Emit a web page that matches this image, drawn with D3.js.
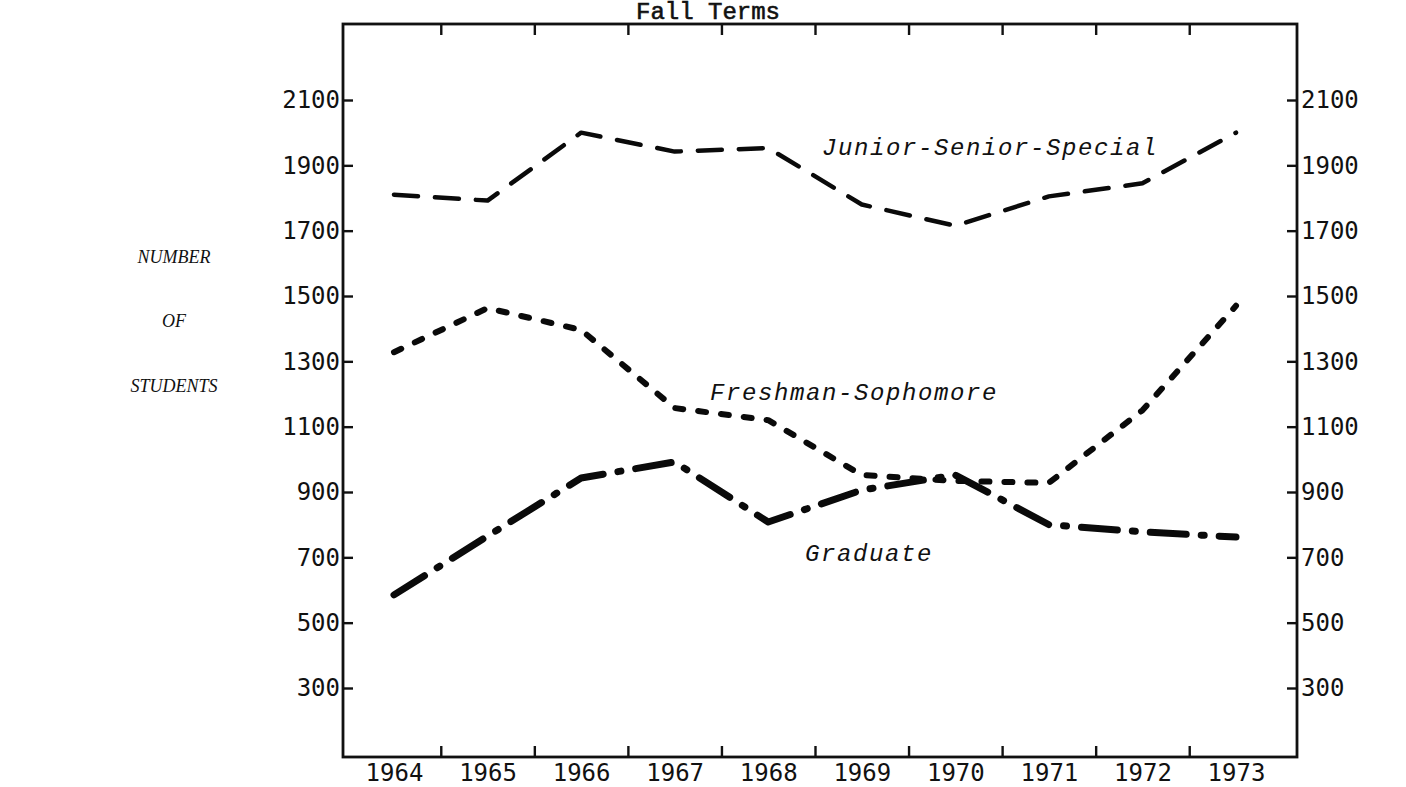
<!DOCTYPE html>
<html>
<head>
<meta charset="utf-8">
<script src="https://cdn.jsdelivr.net/npm/d3@7"></script>
<style>
  body { margin: 0; background: #fff; }
  svg { display: block; }
  .tick text { font-family: "DejaVu Sans Mono", monospace; font-size: 24px; fill: #111; }
  .series-label { font-family: "Liberation Mono", monospace; font-style: italic; font-size: 24px; letter-spacing: 1.6px; fill: #111; }
  .axis-label { font-family: "Liberation Serif", serif; font-style: italic; font-size: 18px; fill: #111; }
</style>
</head>
<body>
<svg id="chart" width="1406" height="787"></svg>
<script>
// enrollment, fall terms
var years = [1964, 1965, 1966, 1967, 1968, 1969, 1970, 1971, 1972, 1973];
var juniorSenior = [1810, 1792, 2000, 1942, 1953, 1780, 1715, 1805, 1845, 2000];
var freshSoph = [1328, 1463, 1396, 1157, 1120, 952, 934, 928, 1150, 1470];
var graduate = [585, 765, 943, 992, 808, 906, 952, 800, 778, 762];
var yTicks = [300, 500, 700, 900, 1100, 1300, 1500, 1700, 1900, 2100];
var tickYears = [1964.5, 1965.5, 1966.5, 1967.5, 1968.5, 1969.5, 1970.5, 1971.5, 1972.5];

var frame = { left: 343, right: 1297, top: 24, bottom: 757 };

var svg = d3.select('#chart');

var x = d3.scaleLinear().domain([1964, 1973]).range([394, 1236]);
var y = d3.scaleLinear().domain([300, 2100]).range([688, 100]);

// frame
svg.append('rect')
  .attr('x', frame.left).attr('y', frame.top)
  .attr('width', frame.right - frame.left).attr('height', frame.bottom - frame.top)
  .attr('fill', 'none').attr('stroke', '#111').attr('stroke-width', 2.8);

// bottom axis: ticks between years, labels under each year
var bottomAxis = svg.append('g').attr('transform', 'translate(0,' + frame.bottom + ')')
  .call(d3.axisBottom(x).tickValues(tickYears).tickSize(-11).tickFormat(''));
bottomAxis.select('.domain').remove();
bottomAxis.selectAll('.tick line').attr('stroke', '#111').attr('stroke-width', 2.4);

var yearLabels = svg.append('g').attr('transform', 'translate(0,' + frame.bottom + ')')
  .call(d3.axisBottom(x).tickValues(years).tickSize(0).tickPadding(7).tickFormat(d3.format('d')));
yearLabels.select('.domain').remove();

var topAxis = svg.append('g').attr('transform', 'translate(0,' + frame.top + ')')
  .call(d3.axisTop(x).tickValues(tickYears).tickSize(-11).tickFormat(''));
topAxis.select('.domain').remove();
topAxis.selectAll('.tick line').attr('stroke', '#111').attr('stroke-width', 2.4);

// left and right axes
var leftAxis = svg.append('g').attr('transform', 'translate(' + frame.left + ',0)')
  .call(d3.axisLeft(y).tickValues(yTicks).tickSize(-10).tickFormat(d3.format('d')));
leftAxis.select('.domain').remove();
leftAxis.selectAll('.tick line').attr('stroke', '#111').attr('stroke-width', 2.4);
leftAxis.selectAll('.tick text').attr('x', -3);

var rightAxis = svg.append('g').attr('transform', 'translate(' + frame.right + ',0)')
  .call(d3.axisRight(y).tickValues(yTicks).tickSize(-10).tickFormat(d3.format('d')));
rightAxis.select('.domain').remove();
rightAxis.selectAll('.tick line').attr('stroke', '#111').attr('stroke-width', 2.4);
rightAxis.selectAll('.tick text').attr('x', 4);

svg.selectAll('.tick text').attr('fill', '#111');

// title
svg.append('text')
  .attr('x', 636).attr('y', 19)
  .attr('font-family', '"Liberation Mono", monospace')
  .attr('font-size', 24)
  .attr('fill', '#111').attr('stroke', '#111').attr('stroke-width', 0.6)
  .text('Fall Terms');

// y axis caption
var caption = ['NUMBER', 'OF', 'STUDENTS'];
var captionY = [263, 327, 392];
svg.selectAll('.axis-label')
  .data(caption)
  .enter().append('text')
    .attr('class', 'axis-label')
    .attr('x', 174)
    .attr('y', function(d, i) { return captionY[i]; })
    .attr('text-anchor', 'middle')
    .text(function(d) { return d; });

var line = d3.line()
  .x(function(d) { return x(d[0]); })
  .y(function(d) { return y(d[1]); });

var series = [
  { name: 'Junior-Senior-Special', values: juniorSenior, width: 4.5, dash: '24,17', lx: 822, ly: 155 },
  { name: 'Freshman-Sophomore', values: freshSoph, width: 6, dash: '8,15', lx: 710, ly: 400 },
  { name: 'Graduate', values: graduate, width: 7, dash: '36,15,3,15', lx: 805, ly: 561 }
];

svg.append('g').attr('class', 'lines')
  .selectAll('path')
  .data(series)
  .enter().append('path')
    .attr('d', function(s) { return line(d3.zip(years, s.values)); })
    .attr('fill', 'none')
    .attr('stroke', '#0a0a0a')
    .attr('stroke-width', function(s) { return s.width; })
    .attr('stroke-linecap', 'round')
    .attr('stroke-linejoin', 'round')
    .attr('stroke-dasharray', function(s) { return s.dash; });

svg.append('g')
  .selectAll('text')
  .data(series)
  .enter().append('text')
    .attr('class', 'series-label')
    .attr('x', function(s) { return s.lx; })
    .attr('y', function(s) { return s.ly; })
    .text(function(s) { return s.name; });
</script>
</body>
</html>
